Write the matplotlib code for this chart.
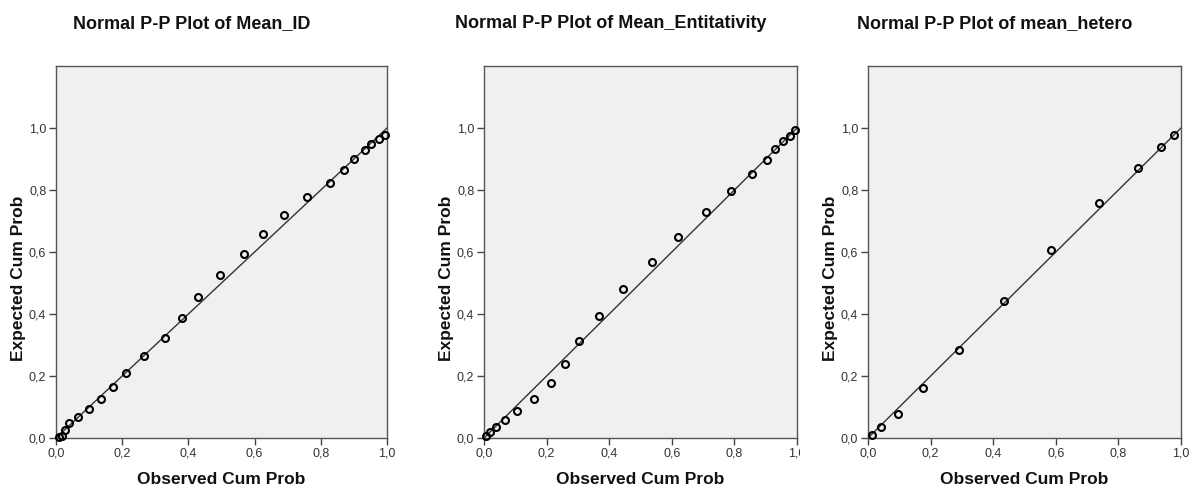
import matplotlib
matplotlib.use("Agg")
import matplotlib.pyplot as plt
from matplotlib.ticker import FuncFormatter
from matplotlib.transforms import Bbox

plt.rcParams['font.family'] = ['Liberation Sans', 'DejaVu Sans']

# observed / expected cumulative probabilities
titles = ["Normal P-P Plot of Mean_ID",
          "Normal P-P Plot of Mean_Entitativity",
          "Normal P-P Plot of mean_hetero"]

id_obs = [0.010, 0.017, 0.027, 0.040, 0.065, 0.100, 0.136, 0.171, 0.210,
          0.266, 0.328, 0.381, 0.428, 0.494, 0.569, 0.626, 0.688, 0.757,
          0.828, 0.871, 0.900, 0.934, 0.953, 0.975, 0.993]
id_exp = [0.003, 0.008, 0.025, 0.048, 0.067, 0.094, 0.125, 0.164, 0.211,
          0.265, 0.324, 0.388, 0.456, 0.525, 0.593, 0.659, 0.720, 0.776,
          0.823, 0.866, 0.899, 0.928, 0.947, 0.965, 0.978]

ent_obs = [0.007, 0.018, 0.039, 0.068, 0.104, 0.161, 0.214, 0.260, 0.305,
           0.367, 0.445, 0.536, 0.620, 0.708, 0.789, 0.855, 0.904, 0.931,
           0.955, 0.979, 0.995]
ent_exp = [0.005, 0.018, 0.035, 0.057, 0.086, 0.126, 0.177, 0.239, 0.312,
           0.394, 0.480, 0.567, 0.650, 0.729, 0.796, 0.852, 0.898, 0.931,
           0.957, 0.973, 0.992]

het_obs = [0.013, 0.041, 0.097, 0.176, 0.291, 0.436, 0.584, 0.738, 0.862,
           0.935, 0.977]
het_exp = [0.011, 0.034, 0.078, 0.161, 0.284, 0.443, 0.608, 0.758, 0.870,
           0.940, 0.976]

series = [(id_obs, id_exp), (ent_obs, ent_exp), (het_obs, het_exp)]
ticks = [0.0, 0.2, 0.4, 0.6, 0.8, 1.0]

W, H = 1189, 488
# axes boxes in pixels: left, right, top, bottom; plus right clip edge of each panel
boxes = [(56, 387, 66, 438, 400), (484, 797, 66, 438, 800), (868, 1181, 66, 438, 1189)]

fig = plt.figure(figsize=(W / 100, H / 100), dpi=100)
comma = FuncFormatter(lambda v, p: f"{v:.1f}".replace(".", ","))

for (obs, exp), title, (l, r, t, b, clip_r) in zip(series, titles, boxes):
    ax = fig.add_axes([l / W, (H - b) / H, (r - l) / W, (b - t) / H])
    ax.set_facecolor('#f0f0f0')
    ax.plot([0, 1], [0, 1], color='#333333', lw=1.0, zorder=2)
    ax.plot(obs, exp, 'o', ms=5, mfc='none', mec='black', mew=1.5, zorder=3,
            clip_on=False)
    ax.set_xlim(0, 1)
    ax.set_ylim(0, 1.2)
    ax.set_xticks(ticks)
    ax.set_yticks(ticks)
    ax.xaxis.set_major_formatter(comma)
    ax.yaxis.set_major_formatter(comma)
    ax.tick_params(direction='out', length=5, width=1, color='#444444',
                   labelsize=9, labelcolor='#333333', pad=2)
    for s in ax.spines.values():
        s.set_color('#555555')
        s.set_linewidth(1.0)

    fig.canvas.draw()
    clip = Bbox([[0, 0], [clip_r, H]])
    for lab in ax.get_xticklabels():
        lab.set_clip_box(clip)
        lab.set_clip_on(True)

    cx = (l + r) / 2
    fig.text((cx - 30) / W, 1 - 24 / H, title, ha='center', va='center',
             fontsize=13, fontweight='bold', color='#111111')
    fig.text(cx / W, 1 - 479 / H, "Observed Cum Prob", ha='center',
             va='center', fontsize=12.5, fontweight='bold', color='#111111')
    fig.text((l - 37) / W, 1 - 278 / H, "Expected Cum Prob", ha='center',
             va='center', rotation=90, fontsize=12.5, fontweight='bold',
             color='#111111')

fig.savefig("out.png", dpi=100)
